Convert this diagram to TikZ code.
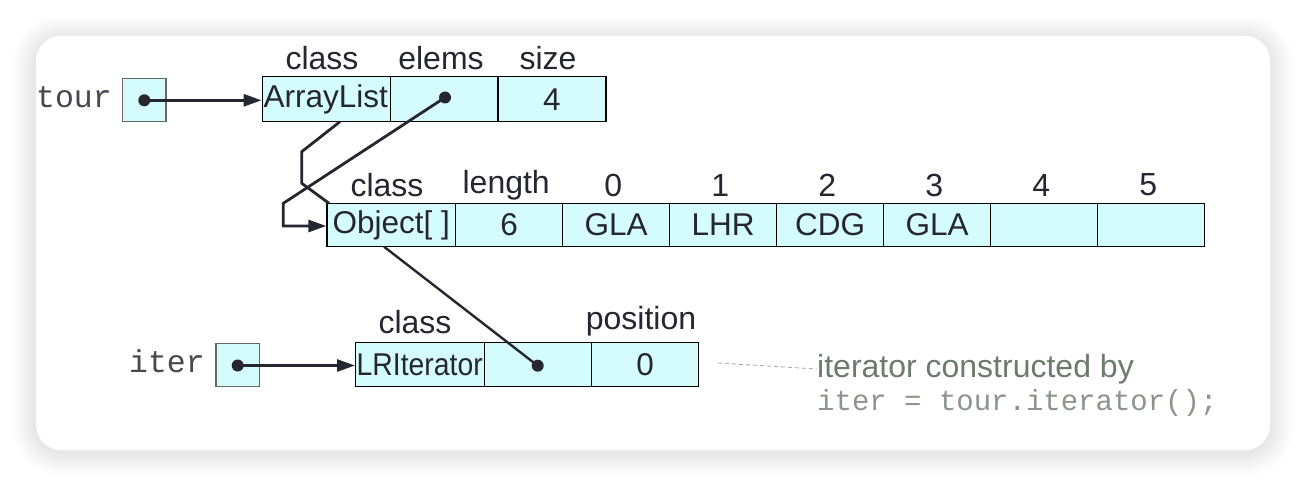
\documentclass[tikz,border=0pt]{standalone}
\usepackage{fontspec}
\setmainfont{Liberation Sans}
\newfontfamily\monofont{Liberation Mono}
\usetikzlibrary{arrows.meta}
\definecolor{cellc}{HTML}{D4FCFC}
\definecolor{linec}{HTML}{262630}
\definecolor{notec}{HTML}{6E7A6E}
\tikzset{
  cell/.style={draw=black, line width=1.4pt, fill=cellc, inner sep=0pt, minimum height=#1},
  cell/.default=44,
  refbox/.style={draw=black!60, line width=1.2pt, fill=cellc, inner sep=0pt},
  hdr/.style={font=\fontsize{32}{36}\selectfont, inner sep=0pt, text=linec},
  val/.style={font=\fontsize{31.5}{36}\selectfont, inner sep=0pt, text=linec},
  varname/.style={font=\monofont\fontsize{31.5}{36}\selectfont, inner sep=0pt, text=linec!85, anchor=east},
  ptr/.style={draw=linec, line width=2.8pt},
  ptrarrow/.style={ptr, -{Triangle[length=18pt,width=12pt]}},
  dotmark/.style={circle, fill=linec, inner sep=0pt, minimum size=12pt},
}
\begin{document}
\begin{tikzpicture}[x=1pt,y=-1pt]
\useasboundingbox (0,0) rectangle (1306,486);
% card with shadow
\foreach \i in {1,...,24}{
  \fill[black, opacity=0.0055, rounded corners={25+\i}] (36-\i,36-\i+3) rectangle (1270+\i,450+\i+2);
}
\fill[white, rounded corners=25] (36,36) rectangle (1270,450);

% row 1 : ArrayList
\node[cell=45, minimum width=128.4] (al) at (326.5,99.2) {};
\node[cell=45, minimum width=107.3] (el) at (444.35,99.2) {};
\node[cell=45, minimum width=108] (sz) at (552,99.2) {};
\node[val, anchor=west] (altx) at (263.5,99.2) {ArrayList};
\node[val] (sztx) at (sz.center) {4};
\node[hdr] (h1a) at (322,58) {class};
\node[hdr] (h1b) at (441,58) {elems};
\node[hdr] (h1c) at (548,58) {size};

% tour
\node[refbox, minimum width=43.3, minimum height=43.4] (tour) at (144.35,100) {};
\node[varname] (tourl) at (112,97) {tour};

% row 2 : Object[]
\node[cell=43.4, minimum width=128.7] (ob) at (391.35,225) {};
\node[val] (obtx) at (ob.center) {Object[ ]};
\foreach \lab/\v/\h [count=\k] in {ln/6/length, c0/GLA/0, c1/LHR/1, c2/CDG/2, c3/GLA/3, c4//4, c5//5}{
  \node[cell=43.4, minimum width=107] (\lab) at (455.7+107*\k-53.5,225) {};
  \node[val] at (\lab.center) {\v};
  \node[hdr] at (455.7+107*\k-53.5-3,185) {\h};
}
\node[hdr] (h2a) at (387,185) {class};

% row 3 : LRIterator
\node[cell=43.8, minimum width=128.6] (lr) at (420,364.6) {};
\node[cell=43.8, minimum width=107.4] (lp) at (538,364.6) {};
\node[cell=43.8, minimum width=107] (lq) at (645.2,364.6) {};
\node[val, anchor=west] (lrtx) at (356.5,364.6) {\scalebox{0.9}[1]{LRIterator}};
\node[val] (lqtx) at (lq.center) {0};
\node[hdr] (h3a) at (415,322) {class};
\node[hdr] (h3b) at (641,321) {position};

% iter
\node[refbox, minimum width=43.3, minimum height=43.4] (iter) at (237.7,365) {};
\node[varname] (iterl) at (205,361) {iter};

% pointer dots and bends
\node[dotmark] (d1) at (144.3,100.3) {};
\node[dotmark] (d2) at (445,97.5) {};
\node[dotmark] (d3) at (237.7,365.5) {};
\node[dotmark] (d4) at (537.7,365.7) {};
\coordinate (b1) at (283.3,203.3);
\coordinate (b2) at (283.3,226);
\coordinate (c1) at (340,121.7);
\coordinate (c2) at (301.7,151.7);
\coordinate (c3) at (301.7,183.3);
\coordinate (c4) at (329,203.3);
\coordinate (e1) at (384,246.7);

\draw[ptrarrow] (d1.center) -- (al.west|-d1);
\draw[ptrarrow] (d3.center) -- (lr.west|-d3);
\draw[ptrarrow] (d2.center) -- (b1) -- (b2) -- (ob.west|-b2);
\draw[ptr] (c1) -- (c2) -- (c3) -- (c4);
\draw[ptr, line width=2.4pt] (e1) -- (d4.center);

% annotation
\node[font=\fontsize{32}{36}\selectfont, text=notec, anchor=west, inner sep=0pt] (n1) at (817,369) {iterator constructed by};
\node[font=\monofont\fontsize{29}{34}\selectfont, text=notec!80, anchor=west, inner sep=0pt] (n2) at (817,403) {iter = tour.iterator();};
\coordinate (a0) at (718,363);
\draw[notec!60, line width=0.9pt, dash pattern=on 4pt off 3pt] (a0) -- (n1.west);
\end{tikzpicture}
\end{document}
